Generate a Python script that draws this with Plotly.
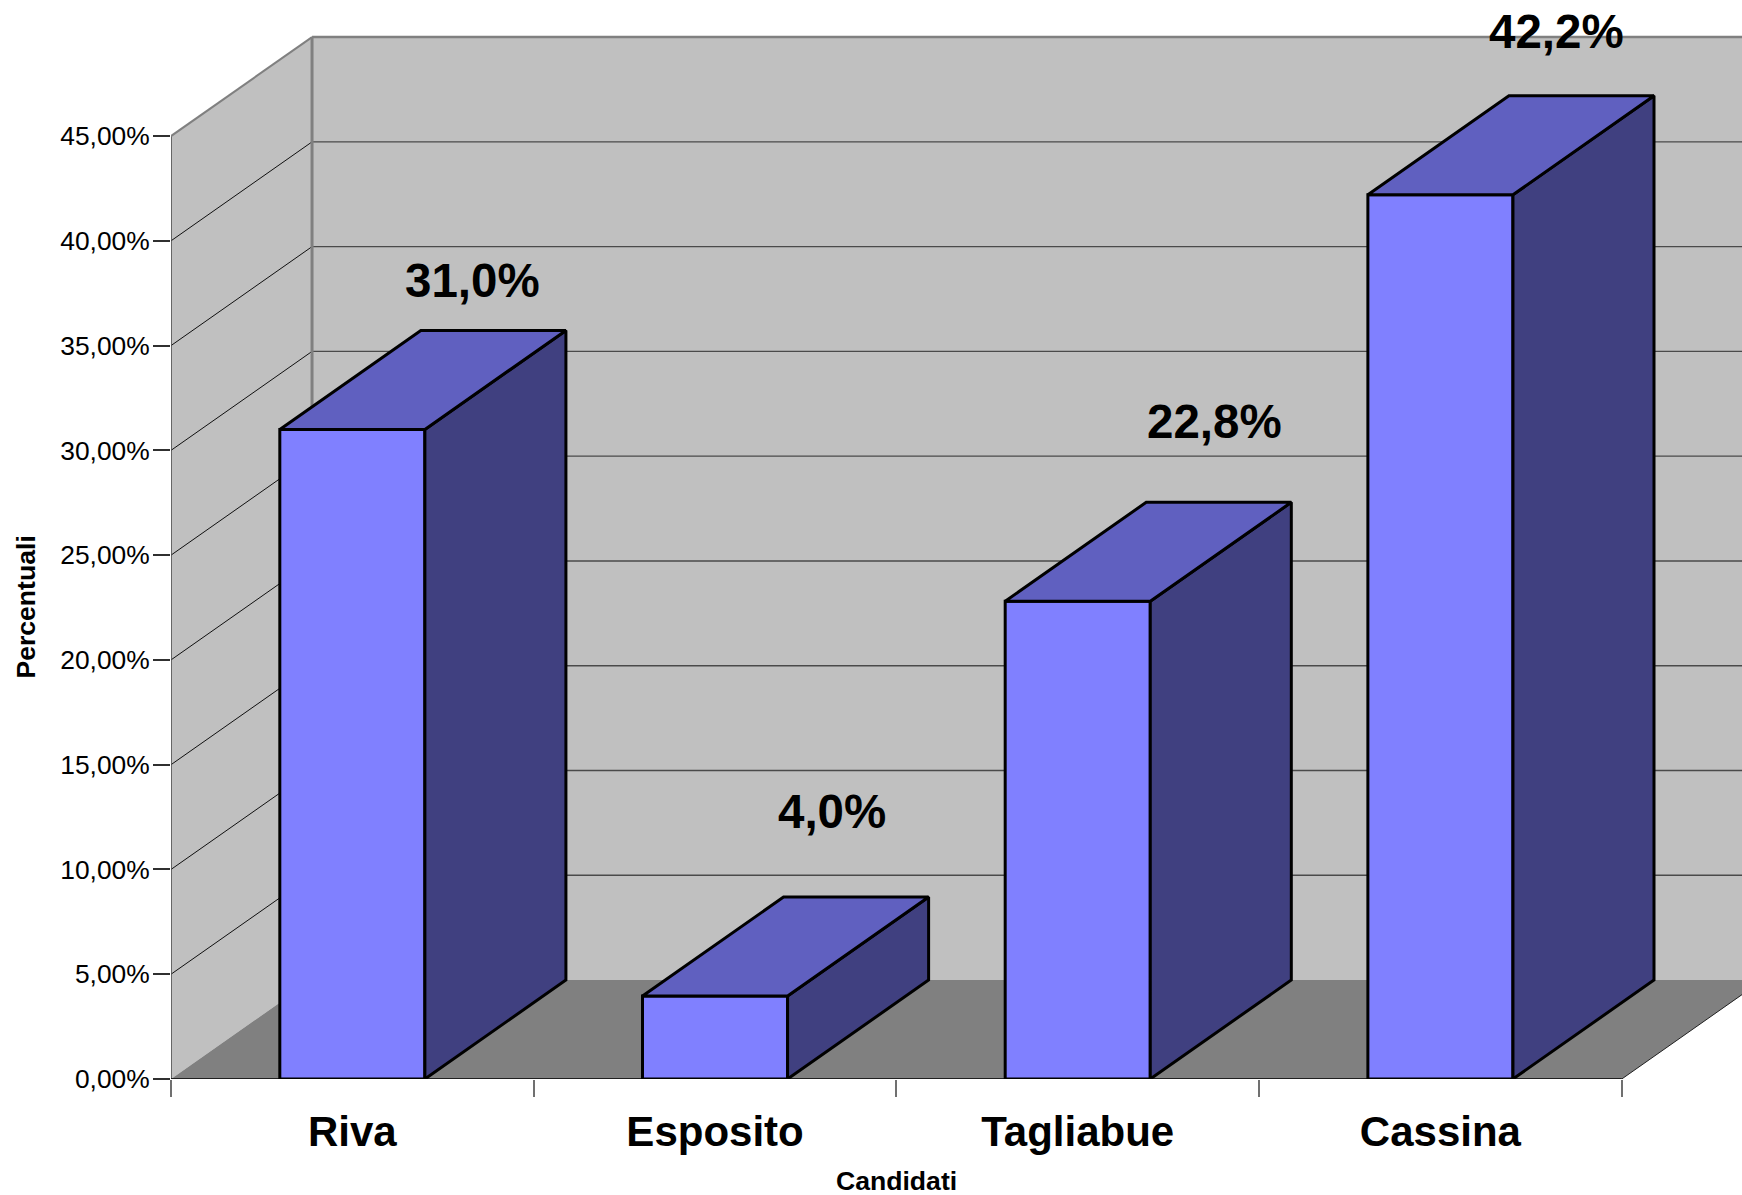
import plotly.graph_objects as go

# --- data ---
categories = ["Riva", "Esposito", "Tagliabue", "Cassina"]
values = [31.0, 3.96, 22.8, 42.2]
value_labels = ["31,0%", "4,0%", "22,8%", "42,2%"]
y_ticks = [0, 5, 10, 15, 20, 25, 30, 35, 40, 45]
y_tick_labels = ["0,00%", "5,00%", "10,00%", "15,00%", "20,00%",
                 "25,00%", "30,00%", "35,00%", "40,00%", "45,00%"]

# --- geometry (pixels of the page, turned into axis units) ---
W, H = 1742, 1195
X0, Y0 = 171.4, 1079.3
PX_PER_CAT = 362.6
PX_PER_PCT = 20.96
DX = 141.0 / PX_PER_CAT
DY = 99.0 / PX_PER_PCT
BAR_W = 0.4
LABEL_OFF_X = [120, 117, 137, 116.5]
LABEL_OFF_Y = [149, 185, 180, 163]
N = len(categories)
TOP = max(y_ticks)

FONT = "Liberation Sans"
C_FRONT, C_TOP, C_SIDE = "#8080FF", "#6060C0", "#404080"
C_WALL, C_FLOOR, C_EDGE = "#C0C0C0", "#808080", "#808080"
BAR_LINE = 3


def poly(xs, ys, color):
    d = "M" + " L".join(f"{x},{y}" for x, y in zip(xs, ys)) + " Z"
    return dict(type="path", path=d, xref="x", yref="y", layer="below",
                fillcolor=color, line=dict(color=color, width=0))


def seg(x0, y0, x1, y1, color, width):
    return dict(type="line", x0=x0, y0=y0, x1=x1, y1=y1, xref="x", yref="y",
                layer="below", line=dict(color=color, width=width))


shapes = [
    poly([DX, N + DX + 1, N + DX + 1, DX], [DY, DY, TOP + DY, TOP + DY], C_WALL),
    poly([0, DX, DX, 0], [0, DY, TOP + DY, TOP], C_WALL),
    poly([0, N, N + DX, DX], [0, 0, DY, DY], C_FLOOR),
]
for t in y_ticks[1:-1]:
    shapes.append(seg(DX, t + DY, N + DX + 1, t + DY, "#4A4A4A", 1.4))
for t in y_ticks[1:-1]:
    shapes.append(seg(0, t, DX, t + DY, "#101010", 1))
shapes += [
    seg(0, 0, 0, TOP, "#505050", 1.6),
    seg(DX, DY, DX, TOP + DY, C_EDGE, 3),
    seg(DX, TOP + DY, N + DX + 1, TOP + DY, C_EDGE, 2.5),
    seg(0, TOP, DX, TOP + DY, C_EDGE, 2),
    seg(N, 0, N + DX, DY, "#202020", 1),
    seg(0, 0, N, 0, "#000000", 1.5),
]

fig = go.Figure()
centers = [i + 0.5 for i in range(N)]
fig.add_trace(go.Bar(x=centers, y=values, width=BAR_W,
                     marker=dict(color=C_FRONT, line=dict(color="black", width=BAR_LINE)),
                     showlegend=False))

for c, v in zip(centers, values):
    l, r = c - BAR_W / 2, c + BAR_W / 2
    fig.add_trace(go.Scatter(x=[r, r + DX, r + DX, r, r], y=[0, DY, v + DY, v, 0],
                             mode="lines", fill="toself", fillcolor=C_SIDE,
                             line=dict(color="black", width=BAR_LINE), showlegend=False))
    fig.add_trace(go.Scatter(x=[l, r, r + DX, l + DX, l], y=[v, v, v + DY, v + DY, v],
                             mode="lines", fill="toself", fillcolor=C_TOP,
                             line=dict(color="black", width=BAR_LINE), showlegend=False))

annotations = []
for c, v, s, ox, oy in zip(centers, values, value_labels, LABEL_OFF_X, LABEL_OFF_Y):
    annotations.append(dict(x=c + ox / PX_PER_CAT, y=v + oy / PX_PER_PCT, text=f"<b>{s}</b>",
                            showarrow=False, xanchor="center", yanchor="middle",
                            font=dict(family=FONT, size=47.5, color="black")))
PLOT_W = W - X0
annotations.append(dict(xref="paper", yref="paper",
                        x=(N / 2 * PX_PER_CAT) / PLOT_W, y=(Y0 - 1181) / Y0,
                        yanchor="middle", xanchor="center",
                        text="<b>Candidati</b>", showarrow=False,
                        font=dict(family=FONT, size=26.6, color="black")))
annotations.append(dict(xref="paper", yref="paper",
                        x=(25.5 - X0) / PLOT_W, y=(TOP / 2 * PX_PER_PCT) / Y0,
                        yanchor="middle", xanchor="center",
                        text="<b>Percentuali</b>", textangle=-90, showarrow=False,
                        font=dict(family=FONT, size=26.6, color="black")))

fig.update_layout(
    width=W, height=H, autosize=False,
    margin=dict(l=X0, r=0, t=0, b=H - Y0, pad=0),
    paper_bgcolor="white", plot_bgcolor="white",
    shapes=shapes, annotations=annotations,
    showlegend=False,
    xaxis=dict(range=[0, PLOT_W / PX_PER_CAT], tickvals=centers, ticktext=categories,
               ticks="", showgrid=False, zeroline=False, showline=False,
               ticklabelstandoff=24,
               tickfont=dict(family=FONT, size=42, color="black", weight="bold"),
               minor=dict(tickvals=list(range(N + 1)), ticks="outside", ticklen=17, tickwidth=1.5,
                          tickcolor="#707070", showgrid=False)),
    yaxis=dict(range=[0, Y0 / PX_PER_PCT], tickvals=y_ticks, ticktext=y_tick_labels,
               ticks="outside", ticklen=17, tickwidth=1.5, tickcolor="#303030",
               ticklabelstandoff=-2,
               showgrid=False, zeroline=False, showline=False,
               tickfont=dict(family=FONT, size=26.4, color="black")),
)

fig.write_html("out.html", config={"displayModeBar": False},
               post_script="document.body.style.margin='0';")
